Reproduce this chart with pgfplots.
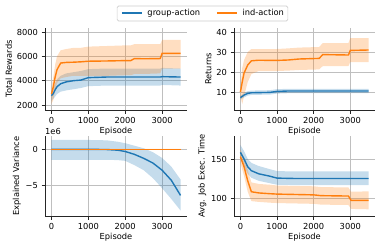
\documentclass[border=0pt]{standalone}
\usepackage{fontspec}
\setmainfont{DejaVu Sans}
\usepackage{pgfplots}
\usepackage{pgfplotstable}
\pgfplotsset{compat=1.18}
\usepgfplotslibrary{fillbetween}
\definecolor{tb}{HTML}{1F77B4}
\definecolor{to}{HTML}{FF7F0E}

\pgfplotstableread{
x bm bl bu om ol ou
0 2770 2350 3150 2900 2100 3400
50 2950 2500 3400 3500 2400 4300
100 3250 2700 3800 4300 3200 5300
150 3500 2900 4100 4900 3800 6000
250 3750 3100 4400 5450 4200 6500
400 3900 3200 4600 5500 4300 6600
600 4000 3300 4700 5520 4400 6700
800 4050 3400 4800 5550 4400 6700
1000 4250 3550 4950 5600 4400 6800
1500 4300 3600 5000 5620 4400 6850
2000 4300 3600 5000 5650 4450 6900
2150 4300 3600 5000 5650 4450 6900
2250 4300 3600 5000 5820 4550 7000
2500 4300 3600 5000 5800 4550 7000
2950 4300 3600 5000 5820 4600 7000
3000 4330 3650 5050 6250 5000 7350
3500 4300 3600 5000 6250 5000 7350
}\tabrew

\pgfplotstableread{
x bm bl bu om ol ou
0 7.2 6.3 8.1 10 8 12
50 7.8 6.8 8.8 15 4 22
100 8.5 7.3 9.6 19.5 8 26
200 9.3 8.2 10.4 23.5 15 30
300 9.6 8.5 10.7 25.6 19 31.5
500 9.7 8.6 10.8 25.9 20.5 31.5
800 9.8 8.7 10.9 25.8 20.5 31.5
1000 10.3 9.2 11.4 25.8 20.5 31.5
1300 10.5 9.4 11.6 26.0 20.7 31.8
1600 10.5 9.4 11.6 26.5 21 32.2
2150 10.5 9.4 11.6 26.8 21.3 32.5
2250 10.5 9.4 11.6 28.7 23 34.5
2950 10.5 9.4 11.6 28.5 23 34.5
3000 10.5 9.4 11.6 30.8 25 37
3500 10.5 9.4 11.6 31 25 37
}\tabret

\pgfplotstableread{
x bm bl bu om ol ou
0 0 -1.45 1.3 0 -0.05 0.05
500 0 -1.45 1.3 0 -0.05 0.05
1000 0 -1.45 1.3 0 -0.05 0.05
1500 -0.03 -1.45 1.25 0 -0.05 0.05
1800 -0.12 -1.5 1.05 0 -0.05 0.05
2000 -0.3 -1.6 0.85 0 -0.05 0.05
2250 -0.7 -2.2 0.5 0 -0.05 0.05
2500 -1.25 -2.9 0.15 0 -0.05 0.05
2750 -1.9 -4.0 -0.4 0 -0.05 0.05
3000 -2.9 -5.4 -1.2 0 -0.05 0.05
3250 -4.3 -6.9 -2.4 0 -0.05 0.05
3500 -6.4 -8.5 -4.2 0 -0.05 0.05
}\tabvar

\pgfplotstableread{
x bm bl bu om ol ou
0 158.5 150 168 153 145 162
100 150 140 160 140 128 152
200 140 131 150 122 108 136
300 135 126 145 108 96 120
500 131 122 141 106.5 95 118
800 128 119 137 105.5 94 117
1000 125.5 117 134.5 105 93.5 116
1500 125 116.5 134 104.5 93 115.5
2000 125 116.5 134 104 92.5 115
2200 125 116.5 134 103 91.5 114
2950 125 116.5 134 102.5 91 113.5
3020 125 116.5 134 97 86 108
3500 125 116.5 134 97 85.5 108.5
}\tabtime

\pgfplotsset{
  myax/.style={
    scale only axis,
    axis x line*=bottom, axis y line*=left,
    axis line style={-, black!85, line width=0.7pt},
    xmin=-175, xmax=3675, xtick={0,1000,2000,3000},
    grid=major, grid style={black!25, line width=0.9pt},
    tick align=outside, major tick length=3.5pt,
    tick style={black!85, line width=0.7pt},
    tick label style={font=\fontsize{8.3}{9}\selectfont},
    label style={font=\fontsize{8.3}{9}\selectfont},
    xlabel={Episode},
    xlabel style={yshift=3pt},
    ylabel style={yshift=-2pt},
    scaled ticks=false,
    /pgf/number format/assume math mode=true,
    /pgf/number format/1000 sep={},
  },
}

\newcommand{\bands}[1]{%
  \addplot[name path=bu, draw=none, forget plot] table[x=x,y=bu]{#1};
  \addplot[name path=bl, draw=none, forget plot] table[x=x,y=bl]{#1};
  \addplot[name path=ou, draw=none, forget plot] table[x=x,y=ou]{#1};
  \addplot[name path=ol, draw=none, forget plot] table[x=x,y=ol]{#1};
  \addplot[fill=tb, fill opacity=0.26, draw=none, forget plot] fill between[of=bu and bl];
  \addplot[fill=to, fill opacity=0.26, draw=none, forget plot] fill between[of=ou and ol];
  \addplot[tb, line width=1.4pt, forget plot] table[x=x,y=bm]{#1};
  \addplot[to, line width=1.4pt, forget plot] table[x=x,y=om]{#1};
}

\begin{document}
\begin{tikzpicture}

\begin{axis}[myax, at={(45pt,137pt)}, anchor=south west, width=142pt, height=82pt,
  ymin=1590, ymax=8330, ytick={2000,4000,6000,8000}, ylabel={Total Rewards}]
\bands{\tabrew}
\end{axis}

\begin{axis}[myax, at={(234pt,137pt)}, anchor=south west, width=141pt, height=82pt,
  ymin=1, ymax=42, ytick={10,20,30,40}, ylabel={Returns}]
\bands{\tabret}
\end{axis}

\begin{axis}[myax, at={(45pt,31pt)}, anchor=south west, width=142pt, height=80pt,
  ymin=-9.26, ymax=1.85, ytick={-5,0}, yticklabels={−5,0}, ylabel={Explained Variance},
  clip=false]
\bands{\tabvar}
\node[anchor=south west, font=\fontsize{8.3}{9}\selectfont, inner sep=0pt] at (rel axis cs:0,1.02) {1e6};
\end{axis}

\begin{axis}[myax, at={(234pt,31pt)}, anchor=south west, width=141pt, height=80pt,
  ymin=76.9, ymax=179.5, ytick={100,150}, ylabel={Avg. Job Exec. Time}]
\bands{\tabtime}
\end{axis}

% legend
\node[draw=black!20, rounded corners=1.5pt, line width=0.6pt, fill=white,
      minimum height=15pt, inner xsep=4pt, font=\fontsize{8.3}{9}\selectfont]
  at (202.5pt,233.5pt)
  {\tikz[baseline=-2.8pt]\draw[tb, line width=1.4pt] (0,0) -- (20pt,0);\hspace{5pt}group-action\hspace{16pt}%
   \tikz[baseline=-2.8pt]\draw[to, line width=1.4pt] (0,0) -- (20pt,0);\hspace{5pt}ind-action};

\pgfresetboundingbox
\path[use as bounding box] (0,0) rectangle (382pt,247pt);
\end{tikzpicture}
\end{document}
